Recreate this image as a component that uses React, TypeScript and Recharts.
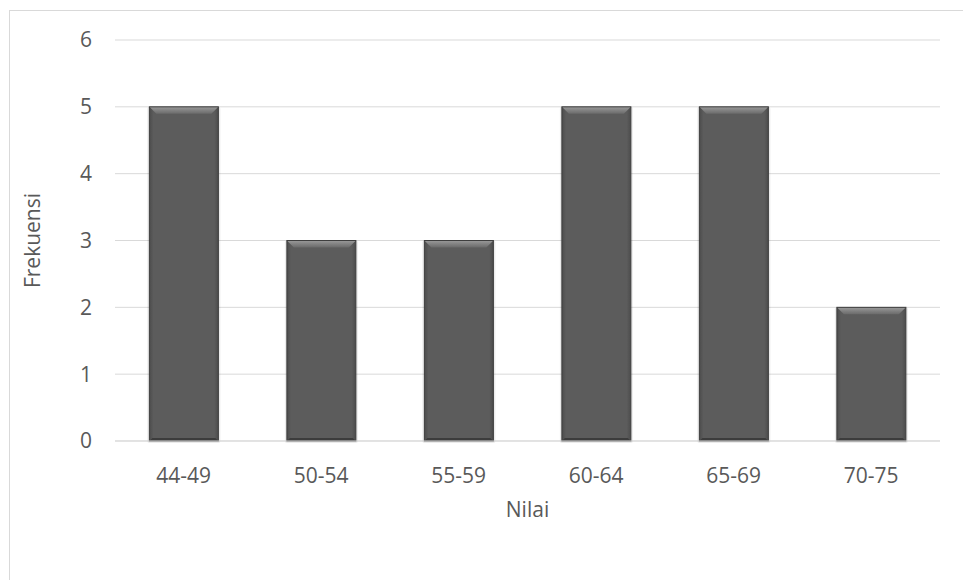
import { BarChart, Bar, XAxis, YAxis, CartesianGrid } from "recharts";

const categories = ["44-49", "50-54", "55-59", "60-64", "65-69", "70-75"];
const frekuensi = [5, 3, 3, 5, 5, 2];
const yTicks = [0, 1, 2, 3, 4, 5, 6];

const data = categories.map((c, i) => ({ nilai: c, frekuensi: frekuensi[i] }));

const FONT = "'Open Sans', 'Noto Sans', sans-serif";
const TEXT = "#595959";

// bevelled bar like the Excel preset
function BevelBar(props: any) {
  const { x, y, width, height } = props;
  if (!height || height <= 0) return null;
  const b = 7;
  return (
    <g>
      <rect x={x - 2} y={y} width={width + 4} height={height + 2} fill="#000" opacity={0.08} rx={2} />
      <rect x={x} y={y} width={width} height={height} fill="url(#barBody)" />
      <polygon
        points={`${x},${y} ${x + width},${y} ${x + width - b},${y + b} ${x + b},${y + b}`}
        fill="url(#barTop)"
      />
      <polygon
        points={`${x},${y + height} ${x + width},${y + height} ${x + width - 3},${y + height - 3} ${x + 3},${y + height - 3}`}
        fill="#3c3c3c"
      />
      <rect x={x} y={y} width={width} height={height} fill="none" stroke="#3e3e3e" strokeWidth={1} />
    </g>
  );
}

export default function App() {
  return (
    <div style={{ position: "absolute", left: 0, top: 0, width: 963, height: 580, background: "#fff" }}>
      <div
        style={{
          position: "absolute",
          left: 9,
          top: 10,
          right: 0,
          bottom: 0,
          borderTop: "1px solid #d9d9d9",
          borderLeft: "1px solid #d9d9d9",
        }}
      />
      <div style={{ position: "absolute", left: 0, top: 0 }}>
        <BarChart
          width={963}
          height={580}
          data={data}
          margin={{ top: 40, right: 23, bottom: 109, left: 0 }}
          barCategoryGap="25%"
        >
          <defs>
            <linearGradient id="barBody" x1="0" y1="0" x2="1" y2="0">
              <stop offset="0" stopColor="#4c4c4c" />
              <stop offset="0.06" stopColor="#5c5c5c" />
              <stop offset="0.94" stopColor="#5c5c5c" />
              <stop offset="1" stopColor="#4c4c4c" />
            </linearGradient>
            <linearGradient id="barTop" x1="0" y1="0" x2="0" y2="1">
              <stop offset="0" stopColor="#9a9a9a" />
              <stop offset="1" stopColor="#6a6a6a" />
            </linearGradient>
          </defs>
          <CartesianGrid vertical={false} stroke="#d9d9d9" strokeWidth={1} />
          <XAxis
            dataKey="nilai"
            height={30}
            axisLine={{ stroke: "#d9d9d9" }}
            tickLine={false}
            tickSize={0}
            tickMargin={27}
            tick={{ fill: TEXT, fontSize: 21, fontFamily: FONT }}
            label={{ value: "Nilai", position: "insideBottom", offset: -46, fill: TEXT, fontSize: 21, fontFamily: FONT }}
          />
          <YAxis
            width={115}
            domain={[0, 6]}
            ticks={yTicks}
            interval={0}
            axisLine={false}
            tickLine={false}
            tickSize={0}
            tickMargin={23}
            tick={{ fill: TEXT, fontSize: 21, fontFamily: FONT }}
            label={{
              value: "Frekuensi",
              angle: -90,
              position: "insideLeft",
              offset: 33,
              style: { textAnchor: "middle" },
              fill: TEXT,
              fontSize: 21,
              fontFamily: FONT,
            }}
          />
          <Bar dataKey="frekuensi" shape={BevelBar} isAnimationActive={false} />
        </BarChart>
      </div>
    </div>
  );
}
